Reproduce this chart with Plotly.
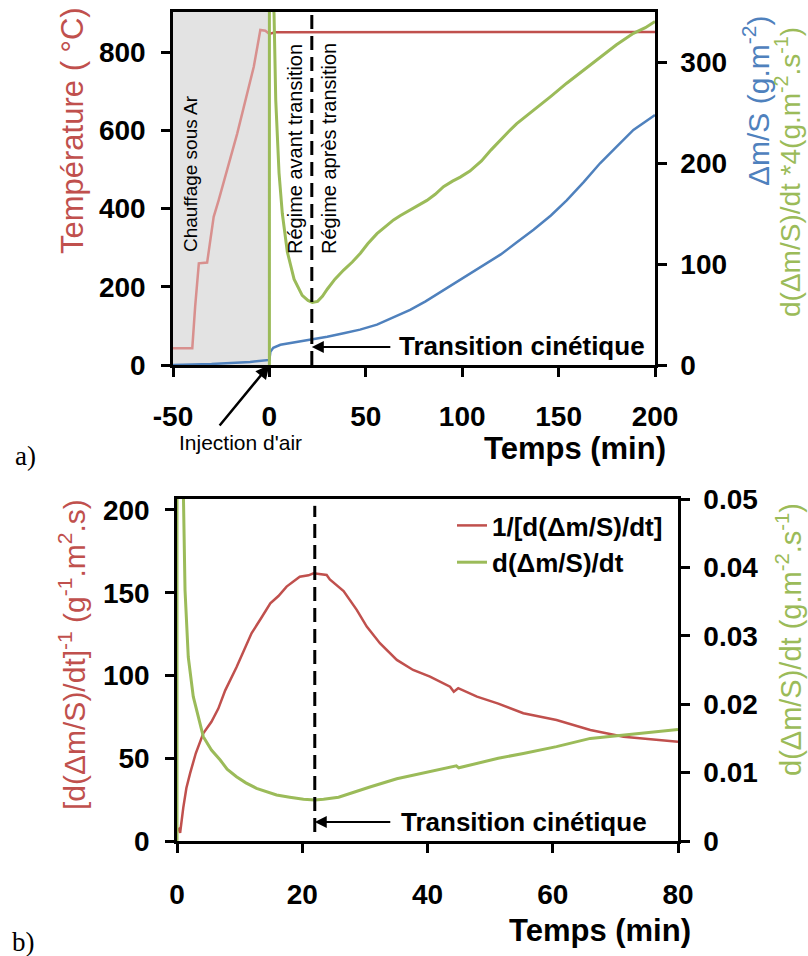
import plotly.graph_objects as go

W, H = 808, 956
FONT = "Liberation Sans, Arial, sans-serif"
RED, BLUE, GREEN = "#C0504D", "#4F81BD", "#9BBB59"
PINK = "#D8908E"

# ---------------- data: panel a ----------------
t_temp = [-50, -40, -38.5, -36.6, -32.3, -30.5, -28.9, -26.3, -16.7, -8.1, -4.7, -2.1, 0, 3, 200]
temp = [43, 43, 150, 260, 262, 330, 379, 422, 592, 763, 857, 855, 847, 851, 852]

t_mass = [-50, -30, -10, -1, 0, 0.5, 2, 5.7, 12, 21.2, 30, 38.5, 47, 55.8, 64, 73, 81,
          90.3, 100, 110, 120, 128, 137, 146, 154.2, 163, 171.5, 180, 188.8, 200]
mass = [0, 1, 3, 4.5, 5, 13, 17, 20, 22, 25, 28, 31.4, 35, 40, 47, 54.5, 63,
        74, 86, 97.5, 109.5, 121, 134, 148, 163, 181, 199.7, 216, 232.7, 247.5]

t_rate4 = [0, 0, 1.2, 2.4, 3.3, 5, 6.7, 9.3, 12.8, 17, 20, 22.3, 25, 27.5, 30, 34, 38.5, 43,
           47.2, 51, 55.8, 60, 64.4, 68, 73, 77, 81.7, 86, 90.3, 95, 99, 104, 110, 115,
           119.7, 124, 128.3, 133, 137, 146, 154.2, 163, 171.5, 180, 188.8, 195, 200]
rate4 = [0, 380, 380, 348, 262, 190, 150, 112, 85, 69, 64, 62, 63, 68, 75, 85, 94, 102,
         110.6, 120, 130, 137, 143.6, 148, 153.5, 158, 163, 169, 176.5, 182, 186, 192, 202, 213,
         222.8, 231, 239, 246, 252.5, 266, 279, 292, 305, 317, 328.4, 334, 340]

t_transition = 22
a_xticks = [-50, 0, 50, 100, 150, 200]
a_xtick_text = ["-50", "0", "50", "100", "150", "200"]
a_yticks_left = [0, 200, 400, 600, 800]
a_yticks_right = [0, 100, 200, 300]

# ---------------- data: panel b ----------------
t_inv = [0.2, 0.5, 1.0, 1.5, 2.1, 3, 4.2, 5.5, 6.6, 7.7, 9.5, 11.9, 13.5, 14.9, 16.2, 17.5,
         19.6, 21, 21.8, 22.8, 23.9, 24.4, 25.8, 26.6, 28.7, 30.3, 32.4, 35.1, 37.7, 40.4,
         43.6, 44.2, 44.9, 47.9, 51.3, 55.3, 60.6, 66, 71.3, 75.6, 80]
inv_rate = [8, 5, 20, 32, 41, 53, 65, 72, 80, 91, 105, 125.5, 135, 143.6, 148, 153.7,
            159.7, 160.5, 161.7, 161, 160.7, 158, 153.5, 151, 139.6, 129.5, 119.5, 109.4, 103.3, 99.3,
            93.2, 90.2, 92.3, 87.2, 83, 77.2, 73.1, 67.1, 63, 61.4, 60]

t_rate = [0, 0, 0.85, 1.0, 1.28, 1.8, 2.6, 4.2, 5.5, 6.9, 8, 9.5, 11, 12.7, 14.3, 15.9, 18,
          20.2, 22, 23.4, 25.8, 27.6, 30.8, 35.1, 40.4, 44.1, 44.6, 45, 47.9, 51.3, 55.3,
          60.6, 66, 71.3, 75.6, 80]
rate = [0, 0.08, 0.06, 0.0499, 0.0367, 0.0269, 0.0211, 0.01525, 0.0133, 0.01184, 0.0105,
        0.0094, 0.0085, 0.0077, 0.0072, 0.00673, 0.0064, 0.0061, 0.0060, 0.0061, 0.0064,
        0.0069, 0.0079, 0.0091, 0.0101, 0.01086, 0.0110, 0.0107, 0.01136, 0.0121, 0.0128,
        0.0138, 0.0150, 0.0155, 0.0159, 0.0163]

b_xticks = [0, 20, 40, 60, 80]
b_yticks_left = [0, 50, 100, 150, 200]
b_yticks_right = [0, 0.01, 0.02, 0.03, 0.04, 0.05]
b_yticks_right_text = ["0", "0.01", "0.02", "0.03", "0.04", "0.05"]


def PX(px):
    return px / W


def PY(py):
    return 1 - py / H


fig = go.Figure()

heat_T = [(t, v) for t, v in zip(t_temp, temp) if t <= 0]
main_T = [(t, v) for t, v in zip(t_temp, temp) if t >= 0]

fig.add_trace(go.Scatter(x=[p[0] for p in heat_T], y=[p[1] for p in heat_T], mode="lines",
                         line=dict(color=PINK, width=2.5), xaxis="x", yaxis="y", showlegend=False))
fig.add_trace(go.Scatter(x=[p[0] for p in main_T], y=[p[1] for p in main_T], mode="lines",
                         line=dict(color=RED, width=2.5), xaxis="x", yaxis="y", showlegend=False))
fig.add_trace(go.Scatter(x=t_mass, y=mass, mode="lines", line=dict(color=BLUE, width=2.5),
                         xaxis="x", yaxis="y2", showlegend=False))
fig.add_trace(go.Scatter(x=t_rate4, y=rate4, mode="lines", line=dict(color=GREEN, width=3),
                         xaxis="x", yaxis="y2", showlegend=False))

fig.add_trace(go.Scatter(x=t_inv, y=inv_rate, mode="lines", line=dict(color=RED, width=2.5),
                         xaxis="x2", yaxis="y3", name="1/[d(Δm/S)/dt]"))
fig.add_trace(go.Scatter(x=t_rate, y=rate, mode="lines", line=dict(color=GREEN, width=3),
                         xaxis="x2", yaxis="y4", name="d(Δm/S)/dt"))

tickfont = dict(family=FONT, size=28, color="black", weight="bold")
common = dict(showline=True, linecolor="black", linewidth=2.5, ticks="outside", ticklen=9,
              tickwidth=2.5, tickcolor="black", showgrid=False, zeroline=False,
              tickfont=tickfont, automargin=False)

fig.update_layout(
    width=W, height=H, margin=dict(l=0, r=0, t=0, b=0),
    paper_bgcolor="white", plot_bgcolor="white",
    xaxis=dict(domain=[PX(173), PX(655)], anchor="y", range=[-50, 200], tickvals=a_xticks,
               ticktext=a_xtick_text, mirror=True, ticklabelstandoff=16, **common),
    yaxis=dict(domain=[PY(365), PY(12)], anchor="x", range=[0, 903], tickvals=a_yticks_left,
               ticklabelstandoff=10, **common),
    yaxis2=dict(overlaying="y", side="right", anchor="x", range=[0, 349.5], tickvals=a_yticks_right,
                ticklabelstandoff=8, **common),
    xaxis2=dict(domain=[PX(177), PX(678)], anchor="y3", range=[0, 80], tickvals=b_xticks,
                mirror=True, ticklabelstandoff=18, **common),
    yaxis3=dict(domain=[PY(841), PY(499)], anchor="x2", range=[0, 206.6], tickvals=b_yticks_left,
                ticklabelstandoff=10, **common),
    yaxis4=dict(overlaying="y3", side="right", anchor="x2", range=[0, 0.05], tickvals=b_yticks_right,
                ticktext=b_yticks_right_text, ticklabelstandoff=8, **common),
    legend=dict(x=PX(668), xanchor="right", y=PY(502), yanchor="top", bgcolor="rgba(0,0,0,0)",
                font=dict(family=FONT, size=26, color="black", weight="bold"),
                tracegroupgap=0, itemwidth=30),
    showlegend=True,
)

shapes = [
    dict(type="rect", xref="x", yref="y domain", x0=-50, x1=0, y0=0, y1=1,
         fillcolor="#E3E3E3", line=dict(width=0), layer="below"),
    dict(type="line", xref="x", yref="y domain", x0=t_transition, x1=t_transition, y0=0, y1=1,
         line=dict(color="black", width=3, dash="14px,7px")),
    dict(type="line", xref="x2", yref="y3 domain", x0=t_transition, x1=t_transition, y0=0.026, y1=0.98,
         line=dict(color="black", width=3, dash="14px,7px")),
]
fig.update_layout(shapes=shapes)


def txt(text, px, py, size, color="black", bold=False, angle=0, family=FONT):
    return dict(text=text, x=PX(px), y=PY(py), xref="paper", yref="paper", showarrow=False,
                xanchor="center", yanchor="middle", textangle=angle,
                font=dict(family=family, size=size, color=color, weight="bold" if bold else "normal"))


SERIF = "Liberation Serif, Times New Roman, serif"
ann = [
    txt("Température ( °C)", 73, 131, 31, RED, angle=-90),
    txt("Δm/S (g.m<sup>-2</sup>)", 756, 101, 30, BLUE, angle=-90),
    txt("d(Δm/S)/dt *4(g.m<sup>-2</sup>.s<sup>-1</sup>)", 788, 172, 28, GREEN, angle=-90),
    txt("Temps (min)", 575, 448, 31, bold=True),
    txt("Chauffage sous Ar", 190, 174, 19, angle=-90),
    txt("Régime avant transition", 295, 149, 20, angle=-90),
    txt("Régime après transition", 329, 149, 20, angle=-90),
    txt("Transition cinétique", 522, 346, 26, bold=True),
    txt("Injection d'air", 240, 443, 21),
    txt("a)", 25, 456, 27, family=SERIF),
    txt("[d(Δm/S)/dt]<sup>-1</sup> (g<sup>-1</sup>.m<sup>2</sup>.s)", 72, 655, 30, RED, angle=-90),
    txt("d(Δm/S)/dt (g.m<sup>-2</sup>.s<sup>-1</sup>)", 789, 640, 29, GREEN, angle=-90),
    txt("Temps (min)", 600, 930, 31, bold=True),
    txt("Transition cinétique", 524, 822, 26, bold=True),
    txt("b)", 23, 942, 27, family=SERIF),
    # arrows
    dict(text="", x=t_transition, y=(365 - 347) / 353, xref="x", yref="y domain",
         showarrow=True, ax=80, ay=0, arrowhead=2, arrowsize=1.2, arrowwidth=2, arrowcolor="black"),
    dict(text="", x=t_transition, y=(841 - 822) / 342, xref="x2", yref="y3 domain",
         showarrow=True, ax=77, ay=0, arrowhead=2, arrowsize=1.2, arrowwidth=2, arrowcolor="black"),
    dict(text="", x=0, y=0.0, xref="x", yref="y domain",
         showarrow=True, ax=-51, ay=62, arrowhead=2, arrowsize=1.1, arrowwidth=2.5, arrowcolor="black"),
]
fig.update_layout(annotations=ann)

fig.write_html("out.html", config={"displayModeBar": False},
               post_script="document.body.style.margin='0px';document.body.style.overflow='hidden';")
